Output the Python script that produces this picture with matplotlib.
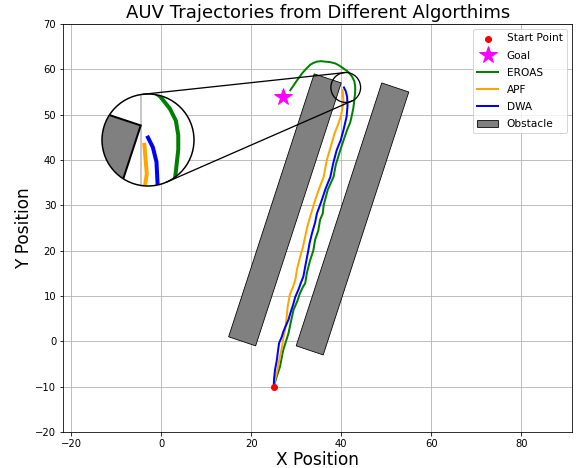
import numpy as np
import matplotlib
matplotlib.use("Agg")
import matplotlib.pyplot as plt
from matplotlib.patches import Polygon, Circle
from matplotlib.lines import Line2D

# ---------- data ----------
start = (25, -10)
goal = (27, 54)

eroas_x = [25.0, 25.6, 26.4, 27.1, 28.3, 28.8, 29.4, 30.3, 30.8, 31.5, 32.0, 32.4,
           33.1, 33.8, 34.2, 34.9, 35.3, 35.9, 36.1, 37.0, 38.3, 38.8, 39.8, 40.5,
           41.3, 42.0, 42.3, 42.7, 42.9, 43.1, 43.1, 42.9, 42.4, 41.6, 40.5, 39.6,
           38.7, 37.5, 36.4, 35.5, 34.6, 33.8, 33.1, 32.2, 31.3, 30.0, 28.7]
eroas_y = [-10.0, -8.0, -5.6, -2.0, 1.8, 4.2, 6.9, 9.0, 10.5, 12.0, 12.8, 15.2,
           17.9, 20.0, 22.4, 24.4, 26.8, 28.2, 30.0, 33.4, 36.3, 39.0, 42.2, 44.3,
           46.6, 48.3, 49.6, 51.5, 53.2, 55.0, 56.2, 57.4, 58.4, 59.4, 60.2, 60.8,
           61.3, 61.6, 61.7, 61.8, 61.7, 61.4, 61.0, 60.1, 59.1, 57.3, 55.4]

apf_x = [25.0, 25.3, 25.9, 26.4, 26.9, 27.2, 27.6, 27.9, 28.1, 28.6, 29.2, 29.8,
         30.2, 30.9, 31.5, 32.0, 32.4, 33.1, 33.5, 34.0, 35.0, 36.1, 36.8, 37.9,
         38.5, 39.4, 39.9, 40.2, 40.5, 40.4, 40.3]
apf_y = [-10.0, -8.5, -6.0, -3.4, -1.0, 1.0, 3.0, 5.4, 7.6, 10.3, 11.8, 13.5,
         16.0, 18.7, 20.8, 23.1, 25.0, 27.5, 28.8, 30.5, 33.4, 36.3, 40.0, 43.7,
         45.8, 48.1, 49.6, 51.0, 53.0, 54.2, 55.4]

dwa_x = [25.0, 25.1, 25.3, 25.7, 25.9, 26.2, 26.8, 27.1, 27.6, 28.3, 28.7, 29.3,
         29.8, 30.5, 31.0, 31.6, 32.1, 32.7, 33.0, 33.5, 34.2, 34.6, 35.2, 35.7,
         36.5, 37.6, 38.2, 39.0, 39.9, 40.5, 41.2, 41.4, 41.3, 41.0, 40.6]
dwa_y = [-10.0, -8.2, -6.3, -4.2, -2.6, -0.4, 1.0, 2.0, 3.2, 4.8, 6.2, 8.0,
         9.8, 11.4, 12.8, 14.3, 17.0, 20.1, 21.8, 23.8, 26.2, 28.2, 29.8, 31.2,
         33.6, 36.3, 39.2, 42.2, 44.4, 46.6, 49.6, 52.0, 54.0, 55.2, 56.0]

obstacles = [
    [(15, 1), (21, -1), (40, 57), (34, 59)],
    [(30, -1), (36, -3), (55, 55), (49, 57)],
]

zoom_center = (41.0, 56.0)
zoom_r = 3.3
inset_center = (40.6, 55.8)
inset_r = 3.8

W, H = 579, 468
DPI = 72


def draw_scene(a, lw, with_labels):
    for k, obs in enumerate(obstacles):
        a.add_patch(Polygon(obs, closed=True, facecolor="gray", edgecolor="black",
                            lw=0.8 if with_labels else 2,
                            label="Obstacle" if (k == 0 and with_labels) else None))
    a.plot(eroas_x, eroas_y, color="green", lw=lw, label="EROAS")
    a.plot(apf_x, apf_y, color="orange", lw=lw, label="APF")
    a.plot(dwa_x, dwa_y, color="blue", lw=lw, label="DWA")


# =========================
# MAIN AXES
# =========================
fig = plt.figure(figsize=(W / DPI, H / DPI), dpi=DPI)
ax = fig.add_axes([63.3 / W, (H - 432) / H, 509 / W, 408 / H])

draw_scene(ax, 2, True)
ax.scatter([start[0]], [start[1]], color="red", s=36, zorder=5, label="Start Point")
ax.plot([goal[0]], [goal[1]], marker="*", color="magenta", markersize=18,
        linestyle="none", zorder=5, label="Goal")

ax.add_patch(Circle(zoom_center, zoom_r, facecolor="none", edgecolor="black",
                    lw=1.3, zorder=6))

ax.set_xlim(-21.7, 91.3)
ax.set_ylim(-20, 70)
ax.set_xticks([-20, 0, 20, 40, 60, 80])
ax.tick_params(labelsize=10)
ax.grid(True)
ax.set_axisbelow(True)
ax.set_title("AUV Trajectories from Different Algorthims", fontsize=18)
ax.set_xlabel("X Position", fontsize=17, labelpad=2)
ax.set_ylabel("Y Position", fontsize=17, labelpad=2)

handles, labels = ax.get_legend_handles_labels()
order = ["Start Point", "Goal", "EROAS", "APF", "DWA", "Obstacle"]
hmap = dict(zip(labels, handles))
ax.legend([hmap[o] for o in order], order, loc="upper right", fontsize=10.5,
          labelspacing=0.68)

# =========================
# CIRCULAR INSET
# =========================
ic = (148, H - 140)   # display pixels
ir = 46
ax_in = fig.add_axes([(ic[0] - ir) / W, (ic[1] - ir) / H, 2 * ir / W, 2 * ir / H])
ax_in.set_xlim(inset_center[0] - inset_r, inset_center[0] + inset_r)
ax_in.set_ylim(inset_center[1] - inset_r, inset_center[1] + inset_r)
ax_in.axis("off")

clip = Circle((0.5, 0.5), 0.5, transform=ax_in.transAxes, facecolor="white",
              edgecolor="none", clip_on=False, zorder=0)
ax_in.add_patch(clip)
ax_in.axvline(40, color="#c8c8c8", lw=2, zorder=0.5)
draw_scene(ax_in, 4, False)
for art in ax_in.lines + ax_in.patches:
    if art is not clip:
        art.set_clip_path(clip)
ax_in.add_patch(Circle((0.5, 0.5), 0.5, transform=ax_in.transAxes, facecolor="none",
                       edgecolor="black", lw=1.5, clip_on=False, zorder=10))

# =========================
# CONNECTOR LINES (external tangents)
# =========================
c1 = np.array(ic, dtype=float)
c2 = ax.transData.transform(zoom_center)
r2 = ax.transData.transform((zoom_center[0] + zoom_r, zoom_center[1]))[0] - c2[0]
d = c2 - c1
D = np.hypot(*d)
dh = d / D
phi = np.arccos((r2 - ir) / D)
for sgn in (1, -1):
    a = sgn * phi
    n = np.array([dh[0] * np.cos(a) - dh[1] * np.sin(a),
                  dh[0] * np.sin(a) + dh[1] * np.cos(a)])
    t1 = c1 - ir * n
    t2 = c2 - r2 * n
    fig.add_artist(Line2D([t1[0] / W, t2[0] / W], [t1[1] / H, t2[1] / H],
                          color="black", lw=1.3, transform=fig.transFigure))

fig.savefig("out.png", dpi=DPI)
